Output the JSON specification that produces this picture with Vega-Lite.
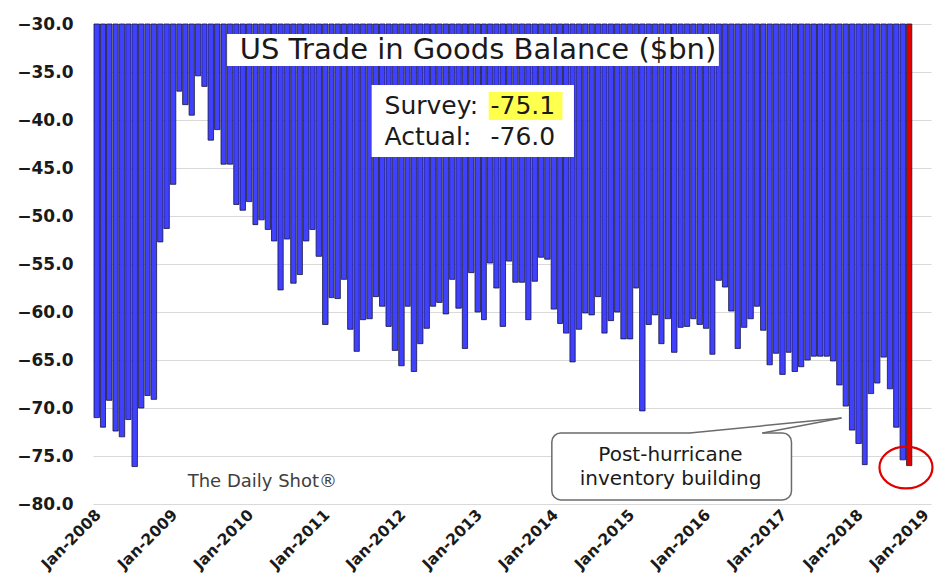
{
  "$schema": "https://vega.github.io/schema/vega-lite/v6.json",
  "width": 838,
  "height": 480,
  "autosize": {"type": "none"},
  "padding": {"left": 93, "top": 24, "right": 4, "bottom": 74},
  "background": "white",
  "config": {"view": {"stroke": null}, "font": "DejaVu Sans"},
  "datasets": {
    "trade": [
      {"date": "2008-01-01", "value": -71.0}, {"date": "2008-02-01", "value": -72.0}, {"date": "2008-03-01", "value": -69.2}, {"date": "2008-04-01", "value": -72.4}, {"date": "2008-05-01", "value": -73.0}, {"date": "2008-06-01", "value": -71.2}, {"date": "2008-07-01", "value": -76.1}, {"date": "2008-08-01", "value": -70.0}, {"date": "2008-09-01", "value": -68.7}, {"date": "2008-10-01", "value": -69.1}, {"date": "2008-11-01", "value": -52.7}, {"date": "2008-12-01", "value": -51.3},
      {"date": "2009-01-01", "value": -46.7}, {"date": "2009-02-01", "value": -37.0}, {"date": "2009-03-01", "value": -38.4}, {"date": "2009-04-01", "value": -39.5}, {"date": "2009-05-01", "value": -35.4}, {"date": "2009-06-01", "value": -36.5}, {"date": "2009-07-01", "value": -42.1}, {"date": "2009-08-01", "value": -41.0}, {"date": "2009-09-01", "value": -44.6}, {"date": "2009-10-01", "value": -44.6}, {"date": "2009-11-01", "value": -48.8}, {"date": "2009-12-01", "value": -49.4},
      {"date": "2010-01-01", "value": -48.5}, {"date": "2010-02-01", "value": -50.9}, {"date": "2010-03-01", "value": -50.4}, {"date": "2010-04-01", "value": -51.4}, {"date": "2010-05-01", "value": -52.6}, {"date": "2010-06-01", "value": -57.7}, {"date": "2010-07-01", "value": -52.4}, {"date": "2010-08-01", "value": -57.0}, {"date": "2010-09-01", "value": -56.1}, {"date": "2010-10-01", "value": -52.6}, {"date": "2010-11-01", "value": -51.4}, {"date": "2010-12-01", "value": -54.2},
      {"date": "2011-01-01", "value": -61.3}, {"date": "2011-02-01", "value": -58.5}, {"date": "2011-03-01", "value": -58.6}, {"date": "2011-04-01", "value": -56.6}, {"date": "2011-05-01", "value": -61.8}, {"date": "2011-06-01", "value": -64.1}, {"date": "2011-07-01", "value": -60.8}, {"date": "2011-08-01", "value": -60.7}, {"date": "2011-09-01", "value": -58.4}, {"date": "2011-10-01", "value": -59.4}, {"date": "2011-11-01", "value": -61.5}, {"date": "2011-12-01", "value": -64.0},
      {"date": "2012-01-01", "value": -65.6}, {"date": "2012-02-01", "value": -59.4}, {"date": "2012-03-01", "value": -66.2}, {"date": "2012-04-01", "value": -63.3}, {"date": "2012-05-01", "value": -61.7}, {"date": "2012-06-01", "value": -59.4}, {"date": "2012-07-01", "value": -59.0}, {"date": "2012-08-01", "value": -60.2}, {"date": "2012-09-01", "value": -56.6}, {"date": "2012-10-01", "value": -59.6}, {"date": "2012-11-01", "value": -63.8}, {"date": "2012-12-01", "value": -55.9},
      {"date": "2013-01-01", "value": -60.0}, {"date": "2013-02-01", "value": -60.8}, {"date": "2013-03-01", "value": -54.9}, {"date": "2013-04-01", "value": -57.5}, {"date": "2013-05-01", "value": -61.5}, {"date": "2013-06-01", "value": -54.7}, {"date": "2013-07-01", "value": -56.9}, {"date": "2013-08-01", "value": -56.9}, {"date": "2013-09-01", "value": -60.8}, {"date": "2013-10-01", "value": -56.8}, {"date": "2013-11-01", "value": -54.3}, {"date": "2013-12-01", "value": -54.5},
      {"date": "2014-01-01", "value": -59.7}, {"date": "2014-02-01", "value": -61.2}, {"date": "2014-03-01", "value": -62.2}, {"date": "2014-04-01", "value": -65.2}, {"date": "2014-05-01", "value": -61.8}, {"date": "2014-06-01", "value": -60.1}, {"date": "2014-07-01", "value": -60.3}, {"date": "2014-08-01", "value": -58.4}, {"date": "2014-09-01", "value": -62.2}, {"date": "2014-10-01", "value": -60.9}, {"date": "2014-11-01", "value": -60.0}, {"date": "2014-12-01", "value": -62.8},
      {"date": "2015-01-01", "value": -62.8}, {"date": "2015-02-01", "value": -57.5}, {"date": "2015-03-01", "value": -70.3}, {"date": "2015-04-01", "value": -61.3}, {"date": "2015-05-01", "value": -60.3}, {"date": "2015-06-01", "value": -63.3}, {"date": "2015-07-01", "value": -60.7}, {"date": "2015-08-01", "value": -64.2}, {"date": "2015-09-01", "value": -61.6}, {"date": "2015-10-01", "value": -61.5}, {"date": "2015-11-01", "value": -60.7}, {"date": "2015-12-01", "value": -61.3},
      {"date": "2016-01-01", "value": -61.7}, {"date": "2016-02-01", "value": -64.4}, {"date": "2016-03-01", "value": -56.7}, {"date": "2016-04-01", "value": -57.4}, {"date": "2016-05-01", "value": -59.9}, {"date": "2016-06-01", "value": -63.8}, {"date": "2016-07-01", "value": -61.6}, {"date": "2016-08-01", "value": -60.7}, {"date": "2016-09-01", "value": -59.4}, {"date": "2016-10-01", "value": -61.9}, {"date": "2016-11-01", "value": -65.5}, {"date": "2016-12-01", "value": -64.3},
      {"date": "2017-01-01", "value": -66.5}, {"date": "2017-02-01", "value": -64.2}, {"date": "2017-03-01", "value": -66.2}, {"date": "2017-04-01", "value": -65.7}, {"date": "2017-05-01", "value": -65.0}, {"date": "2017-06-01", "value": -64.6}, {"date": "2017-07-01", "value": -64.6}, {"date": "2017-08-01", "value": -64.6}, {"date": "2017-09-01", "value": -65.1}, {"date": "2017-10-01", "value": -67.6}, {"date": "2017-11-01", "value": -69.8}, {"date": "2017-12-01", "value": -72.3},
      {"date": "2018-01-01", "value": -73.7}, {"date": "2018-02-01", "value": -75.9}, {"date": "2018-03-01", "value": -68.5}, {"date": "2018-04-01", "value": -67.4}, {"date": "2018-05-01", "value": -64.7}, {"date": "2018-06-01", "value": -68.0}, {"date": "2018-07-01", "value": -72.0}, {"date": "2018-08-01", "value": -75.4}, {"date": "2018-09-01", "value": -76.0}
    ]
  },
  "layer": [
    {
      "data": {"name": "trade"},
      "mark": {"type": "bar", "stroke": "#15153a", "strokeWidth": 0.8},
      "encoding": {
        "x": {
          "field": "date", "type": "temporal", "timeUnit": "utcyearmonth", "title": null,
          "scale": {"type": "utc", "domain": [{"year": 2008, "month": 1, "date": 1, "utc": true}, {"year": 2019, "month": 1, "date": 1, "utc": true}]},
          "axis": {"format": "%b-%Y", "tickCount": {"interval": "year", "step": 1}, "labelAngle": -45, "labelAlign": "right", "labelBaseline": "top", "labelFontSize": 15.5, "labelFontWeight": "bold", "labelColor": "#1a1a1a", "ticks": false, "domain": false, "grid": false, "labelPadding": 3, "labelOffset": {"condition": {"test": "utcyear(datum.value) === 2019", "value": -10}, "value": 0}, "labelFlush": false, "labelOverlap": false, "labelBound": false, "title": null}
        },
        "y": {
          "field": "value", "type": "quantitative", "title": null,
          "scale": {"domain": [-80, -30], "zero": false, "nice": false},
          "axis": {"values": [-80, -75, -70, -65, -60, -55, -50, -45, -40, -35, -30], "format": ".1f", "grid": true, "gridColor": "#D9D9D9", "gridWidth": 1, "domain": false, "ticks": false, "tickSize": 0, "labelPadding": 20, "labelFontSize": 17, "labelFontWeight": "bold", "labelColor": "#1a1a1a", "title": null}
        },
        "y2": {"datum": -30},
        "fill": {"condition": {"test": "utcyear(datum.date) === 2018 && utcmonth(datum.date) === 8", "value": "#E00000"}, "value": "#4040FF"}
      }
    },
    {
      "data": {"values": [
        {"d1": "2009-10-05", "d2": "2016-03-20", "v1": -31.04, "v2": -34.38},
        {"d1": "2011-08-29", "d2": "2014-04-25", "v1": -36.35, "v2": -43.85}
      ]},
      "mark": {"type": "rect", "fill": "white"},
      "encoding": {
        "x": {"field": "d1", "type": "temporal", "scale": {"type": "utc"}, "title": null},
        "x2": {"field": "d2"},
        "y": {"field": "v1", "type": "quantitative", "title": null},
        "y2": {"field": "v2"}
      }
    },
    {
      "data": {"values": [{"d1": "2013-03-12", "d2": "2014-03-01", "v1": -37.08, "v2": -40.0}]},
      "mark": {"type": "rect", "fill": "#FFFF4D"},
      "encoding": {
        "x": {"field": "d1", "type": "temporal", "scale": {"type": "utc"}, "title": null},
        "x2": {"field": "d2"},
        "y": {"field": "v1", "type": "quantitative", "title": null},
        "y2": {"field": "v2"}
      }
    },
    {
      "data": {"values": [{"d1": "2014-01-09", "d2": "2017-03-03", "v1": -72.6, "v2": -79.58}]},
      "mark": {"type": "rect", "fill": "white", "stroke": "#6b6b6b", "strokeWidth": 1.5, "cornerRadius": 9},
      "encoding": {
        "x": {"field": "d1", "type": "temporal", "scale": {"type": "utc"}, "title": null},
        "x2": {"field": "d2"},
        "y": {"field": "v1", "type": "quantitative", "title": null},
        "y2": {"field": "v2"}
      }
    },
    {
      "data": {"values": [{"d1": "2015-11-03", "d2": "2016-10-13", "v1": -72.6, "v2": -72.6}]},
      "mark": {"type": "rule", "stroke": "white", "strokeWidth": 3},
      "encoding": {
        "x": {"field": "d1", "type": "temporal", "scale": {"type": "utc"}, "title": null},
        "x2": {"field": "d2"},
        "y": {"field": "v1", "type": "quantitative", "title": null},
        "y2": {"field": "v2"}
      }
    },
    {
      "data": {"values": [
        {"d1": "2015-11-01", "d2": "2017-10-29", "v1": -72.6, "v2": -71.04},
        {"d1": "2016-10-16", "d2": "2017-10-29", "v1": -72.6, "v2": -71.04}
      ]},
      "mark": {"type": "rule", "stroke": "#6b6b6b", "strokeWidth": 1.5},
      "encoding": {
        "x": {"field": "d1", "type": "temporal", "scale": {"type": "utc"}, "title": null},
        "x2": {"field": "d2"},
        "y": {"field": "v1", "type": "quantitative", "title": null},
        "y2": {"field": "v2"}
      }
    },
    {
      "data": {"values": [{"d": "2013-01-20", "v": -32.7, "t": "US Trade in Goods Balance ($bn)"}]},
      "mark": {"type": "text", "fontSize": 29, "color": "#1a1a1a", "align": "center", "baseline": "middle"},
      "encoding": {
        "x": {"field": "d", "type": "temporal", "scale": {"type": "utc"}, "title": null},
        "y": {"field": "v", "type": "quantitative", "title": null},
        "text": {"field": "t"}
      }
    },
    {
      "data": {"values": [
        {"d": "2011-10-30", "v": -38.54, "t": "Survey:"},
        {"d": "2013-03-21", "v": -38.54, "t": "-75.1"},
        {"d": "2011-10-30", "v": -41.77, "t": "Actual:"},
        {"d": "2013-03-21", "v": -41.77, "t": "-76.0"}
      ]},
      "mark": {"type": "text", "fontSize": 25, "color": "#1a1a1a", "align": "left", "baseline": "middle"},
      "encoding": {
        "x": {"field": "d", "type": "temporal", "scale": {"type": "utc"}, "title": null},
        "y": {"field": "v", "type": "quantitative", "title": null},
        "text": {"field": "t"}
      }
    },
    {
      "data": {"values": [{"d": "2009-03-30", "v": -77.7, "t": "The Daily Shot®"}]},
      "mark": {"type": "text", "fontSize": 18, "color": "#404040", "align": "left", "baseline": "middle"},
      "encoding": {
        "x": {"field": "d", "type": "temporal", "scale": {"type": "utc"}, "title": null},
        "y": {"field": "v", "type": "quantitative", "title": null},
        "text": {"field": "t"}
      }
    },
    {
      "data": {"values": [
        {"d": "2015-08-01", "v": -74.9, "t": "Post-hurricane"},
        {"d": "2015-08-01", "v": -77.4, "t": "inventory building"}
      ]},
      "mark": {"type": "text", "fontSize": 20, "color": "#1a1a1a", "align": "center", "baseline": "middle"},
      "encoding": {
        "x": {"field": "d", "type": "temporal", "scale": {"type": "utc"}, "title": null},
        "y": {"field": "v", "type": "quantitative", "title": null},
        "text": {"field": "t"}
      }
    },
    {
      "data": {"values": [{"d": "2018-09-03", "v": -76.2}]},
      "mark": {"type": "point", "shape": "M-1,0A1,0.79,0,1,0,1,0A1,0.79,0,1,0,-1,0Z", "size": 2809, "filled": false, "stroke": "#E00000", "strokeWidth": 2.2, "opacity": 1},
      "encoding": {
        "x": {"field": "d", "type": "temporal", "scale": {"type": "utc"}, "title": null},
        "y": {"field": "v", "type": "quantitative", "title": null}
      }
    }
  ]
}
